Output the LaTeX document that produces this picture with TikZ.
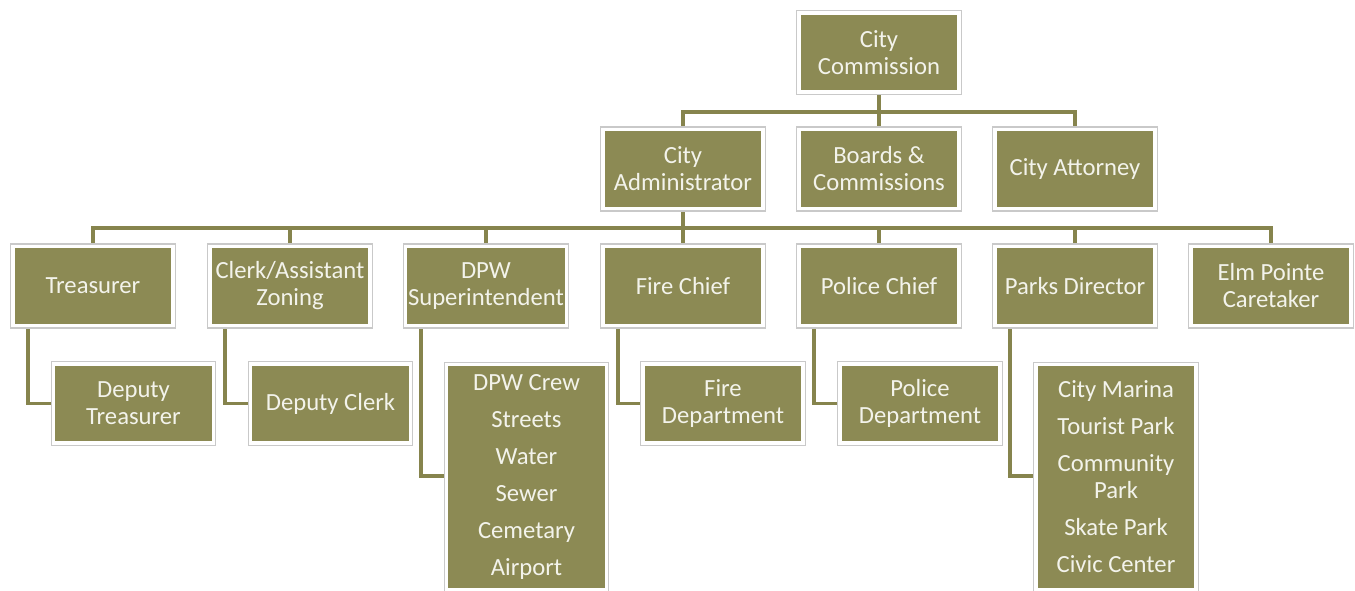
\documentclass[tikz,border=0pt]{standalone}
\usepackage{fontspec}
\setmainfont{Carlito}
\usetikzlibrary{calc,backgrounds}
\definecolor{boxfill}{HTML}{8C8A54}
\definecolor{boxtext}{HTML}{F3F3EB}
\definecolor{ring}{HTML}{C9C9C9}
\definecolor{connc}{HTML}{86844D}
\tikzset{
  orgbox/.style={rectangle, fill=boxfill, draw=white, line width=2.625pt,
    minimum width=120pt, minimum height=59.6pt, inner sep=2pt, outer sep=0pt,
    text=boxtext, align=center, font=\fontsize{18.5}{20.25}\selectfont,
    preaction={draw=ring, line width=4.2pt}},
  tallbox/.style={orgbox, minimum height=168.4pt},
  conn/.style={draw=connc, line width=2.4pt}
}
\begin{document}
\begin{tikzpicture}[x=0.75pt,y=-0.75pt]
\useasboundingbox (0,0) rectangle (1355,591);
\clip (0,0) rectangle (1355,591);
% row 1
\node[orgbox] (cc) at (879,52.5) {City\\Commission};
% row 2
\node[orgbox] (ca) at (683,169) {City\\Administrator};
\node[orgbox] (bc) at (879,169) {Boards \&\\Commissions};
\node[orgbox] (at) at (1075,169) {City Attorney};
% row 3
\node[orgbox] (tre) at (93,286) {Treasurer};
\node[orgbox] (clk) at (290,286) {Clerk/Assistant\\Zoning};
\node[orgbox] (dpw) at (486,286) {DPW\\Superintendent};
\node[orgbox] (fc) at (683,286) {Fire Chief};
\node[orgbox] (pc) at (879,286) {Police Chief};
\node[orgbox] (pd) at (1075,286) {Parks Director};
\node[orgbox] (elm) at (1271,286) {Elm Pointe\\Caretaker};
% row 4
\node[orgbox] (dtre) at (133.5,403.5) {Deputy\\Treasurer};
\node[orgbox] (dclk) at (330.5,403.5) {Deputy Clerk};
\node[tallbox] (crew) at (526.5,477) {DPW Crew\\[7.5pt]Streets\\[7.5pt]Water\\[7.5pt]Sewer\\[7.5pt]Cemetary\\[7.5pt]Airport};
\node[orgbox] (fd) at (723,403.5) {Fire\\Department};
\node[orgbox] (pdep) at (920,403.5) {Police\\Department};
\node[tallbox] (parks) at (1116,477) {City Marina\\[7.5pt]Tourist Park\\[7.5pt]Community\\Park\\[7.5pt]Skate Park\\[7.5pt]Civic Center};
\begin{scope}[on background layer]
\coordinate (j1) at (879,112);
\coordinate (j2) at (683,228);
\draw[conn] (cc.south) -- (j1);
\draw[conn] (j1) -| (ca.north);
\draw[conn] (j1) -- (bc.north);
\draw[conn] (j1) -| (at.north);
\draw[conn] (ca.south) -- (j2);
\foreach \n in {tre,clk,dpw,fc,pc,pd,elm}{\draw[conn] (j2) -| (\n.north);}
\draw[conn] ($(tre.south)+(-65,0)$) |- (dtre.west);
\draw[conn] ($(clk.south)+(-65,0)$) |- (dclk.west);
\draw[conn] ($(dpw.south)+(-65,0)$) |- ($(crew.west)+(0,-1)$);
\draw[conn] ($(fc.south)+(-65,0)$) |- (fd.west);
\draw[conn] ($(pc.south)+(-65,0)$) |- (pdep.west);
\draw[conn] ($(pd.south)+(-65,0)$) |- ($(parks.west)+(0,-1)$);
\end{scope}
\end{tikzpicture}
\end{document}
